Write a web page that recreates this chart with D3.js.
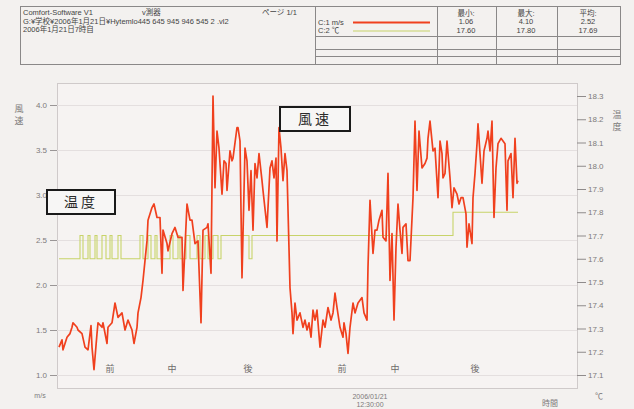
<!DOCTYPE html>
<html>
<head>
<meta charset="utf-8">
<script src="https://cdn.jsdelivr.net/npm/d3@7"></script>
<style>
  html, body { margin: 0; padding: 0; background: #f3f1ef; }
  svg { display: block; }
  text { font-family: "Liberation Sans Narrow", "Liberation Sans", "Noto Sans CJK JP", sans-serif; }
  .jp { font-family: "Noto Sans CJK JP", sans-serif; }
</style>
</head>
<body>
<svg id="chart" width="634" height="409"></svg>
<script>
// Logger record: wind speed (m/s) and temperature (°C), seconds from start of record
const windSec = [
  20,50,60,100,130,150,160,200,210,250,
  280,310,340,350,370,400,410,450,460,500,
  510,550,580,610,650,680,710,750,770,800,
  810,840,860,880,900,910,950,970,1000,1030,
  1050,1060,1100,1110,1150,1180,1210,1250,1260,1300,
  1330,1350,1380,1410,1440,1460,1500,1510,1540,1560,
  1580,1600,1620,1650,1670,1690,1700,1730,1750,1760,
  1800,1810,1830,1850,1880,1900,1920,1940,1960,1980,
  2000,2020,2050,2060,2100,2130,2150,2170,2190,2200,
  2220,2240,2260,2280,2300,2330,2350,2360,2380,2400,
  2430,2460,2480,2500,2520,2540,2560,2580,2600,2630,
  2660,2680,2710,2740,2760,2780,2800,2830,2860,2870,
  2890,2910,2930,2960,2980,3010,3050,3070,3100,3110,
  3130,3160,3180,3200,3220,3250,3260,3290,3310,3330,
  3350,3370,3390,3410,3430,3450,3460,3490,3510,3530,
  3560,3580,3600,3620,3650,3680,3700,3710,3730,3760,
  3780,3810,3830,3850,3860,3880,3900,3930,3950,3970,
  4000,4020,4040,4060,4090,4100,4120,4150,4160,4180,
  4200,4210,4230,4250,4270,4300,4310,4330,4350,4370,
  4390,4410,4440,4460,4480,4500,4510,4540,4560,4580,
  4600,4610
];
const windMs = [
  1.31,1.39,1.28,1.42,1.46,1.53,1.58,1.53,1.50,1.46,
  1.31,1.28,1.55,1.31,1.06,1.46,1.58,1.53,1.58,1.35,
  1.53,1.58,1.80,1.64,1.69,1.50,1.61,1.50,1.35,1.53,
  1.69,1.86,2.05,2.27,2.49,2.72,2.86,2.90,2.75,2.75,
  2.13,2.61,2.46,2.38,2.57,2.64,2.53,2.53,1.94,2.90,
  2.72,2.72,2.46,2.49,1.58,2.61,2.64,2.68,2.13,4.10,
  3.08,3.71,3.52,3.01,3.38,3.35,3.05,3.49,3.38,3.41,
  3.75,3.75,3.60,2.08,3.52,3.38,2.83,3.27,2.61,3.35,
  3.19,3.46,3.16,3.05,2.64,3.30,3.38,3.19,3.41,2.49,
  3.75,3.52,3.16,3.46,3.27,1.97,1.69,1.46,1.80,1.61,
  1.69,1.53,1.61,1.50,1.58,1.42,1.72,1.61,1.72,1.31,
  1.61,1.53,1.75,1.61,1.69,1.91,1.75,1.53,1.42,1.58,
  1.46,1.24,1.53,1.80,1.69,1.80,1.86,1.69,1.61,2.20,
  2.94,2.35,2.61,2.61,2.72,2.83,2.53,2.49,3.24,2.05,
  2.57,1.61,2.42,2.90,2.61,2.35,2.64,2.68,2.27,2.27,
  2.97,3.82,3.05,3.71,3.30,3.35,3.41,3.63,3.82,3.49,
  3.52,2.97,3.60,3.46,3.19,3.24,3.60,3.19,2.86,3.08,
  3.01,2.90,2.97,2.97,2.79,2.42,2.68,2.46,2.97,3.24,
  3.57,3.79,3.46,3.13,3.49,3.63,3.71,3.49,3.82,2.75,
  3.30,3.57,3.63,3.60,3.57,2.83,3.38,3.46,2.97,3.63,
  3.13,3.16
];
const tempSec = [
  20,230,260,310,330,380,400,450,490,530,550,610,640,
  830,860,910,940,980,1000,1130,1160,1210,1230,1290,1330,
  1400,1430,1480,1510,1560,1610,1640,1920,1950,3960,4610
];
const tempC = [
  17.6,17.7,17.6,17.7,17.6,17.7,17.6,17.7,17.6,17.7,17.6,17.7,17.6,
  17.7,17.6,17.7,17.6,17.7,17.6,17.7,17.6,17.7,17.6,17.7,17.6,
  17.7,17.6,17.7,17.6,17.7,17.6,17.7,17.6,17.7,17.8,17.8
];

const speedTicks = [1.0, 1.5, 2.0, 2.5, 3.0, 3.5, 4.0];
const tempTicks = [17.1, 17.2, 17.3, 17.4, 17.5, 17.6, 17.7, 17.8, 17.9, 18.0, 18.1, 18.2, 18.3];
const phaseLabels = ["前", "中", "後", "前", "中", "後"];
const phaseSec = [530, 1150, 1910, 2850, 3380, 4180];
const stampSec = 3130;
const stampLines = ["2006/01/21", "12:30:00"];

const headerLines = [
  "Comfort-Software V1",
  "G:¥学校¥2006年1月21日¥Hytemlo445 645 945 946 545 2 .vl2",
  "2006年1月21日7時自"
];
const statNames = ["最小:", "最大:", "平均:"];
const windStats = ["1.06", "4.10", "2.52"];
const tempStats = ["17.60", "17.80", "17.69"];
const channelNames = ["C:1  m/s", "C:2  ℃"];

const RED = "#f0401e";
const GREEN = "#c8d36a";
const GRAY = "#7d7a7a";

const svg = d3.select("#chart");

// ---------- header block ----------
const hdr = svg.append("g");
hdr.append("rect").attr("x", 20.5).attr("y", 6.5).attr("width", 600).attr("height", 58)
  .attr("fill", "none").attr("stroke", "#8a8888").attr("stroke-width", 1);
const colX = [315, 437, 496, 557];
colX.forEach(x => hdr.append("line").attr("x1", x + 0.5).attr("x2", x + 0.5)
  .attr("y1", 6.5).attr("y2", 64.5).attr("stroke", "#8a8888"));
[36, 49, 56].forEach(y => hdr.append("line").attr("x1", 315.5).attr("x2", 620.5)
  .attr("y1", y + 0.5).attr("y2", y + 0.5).attr("stroke", "#8a8888"));

hdr.selectAll("text.hl").data(headerLines).join("text")
  .attr("class", "hl")
  .attr("x", 23).attr("y", (d, i) => 15 + i * 8.5)
  .attr("font-size", 7.5).attr("fill", "#444").text(d => d);
hdr.append("text").attr("x", 142).attr("y", 15).attr("font-size", 7.5).attr("fill", "#444").text("v測器");
hdr.append("text").attr("x", 262).attr("y", 15).attr("font-size", 7.5).attr("fill", "#444").text("ページ  1/1");

hdr.selectAll("text.ch").data(channelNames).join("text")
  .attr("class", "ch")
  .attr("x", 318).attr("y", (d, i) => 25 + i * 8)
  .attr("font-size", 7.5).attr("fill", "#444").text(d => d);
hdr.append("line").attr("x1", 353).attr("x2", 430).attr("y1", 22.5).attr("y2", 22.5)
  .attr("stroke", RED).attr("stroke-width", 2);
hdr.append("line").attr("x1", 353).attr("x2", 430).attr("y1", 31).attr("y2", 31)
  .attr("stroke", GREEN).attr("stroke-width", 1.2);

const colCenters = [466, 526, 588];
statNames.forEach((s, i) => {
  hdr.append("text").attr("x", colCenters[i]).attr("y", 16).attr("text-anchor", "middle")
    .attr("font-size", 7.5).attr("fill", "#444").text(s);
  hdr.append("text").attr("x", colCenters[i]).attr("y", 24).attr("text-anchor", "middle")
    .attr("font-size", 7.5).attr("fill", "#444").text(windStats[i]);
  hdr.append("text").attr("x", colCenters[i]).attr("y", 33).attr("text-anchor", "middle")
    .attr("font-size", 7.5).attr("fill", "#444").text(tempStats[i]);
});

// ---------- plot frame and scales ----------
const plot = { left: 57, right: 577, top: 83, bottom: 388 };
const x = d3.scaleLinear().domain([0, 5200]).range([plot.left, plot.right]);
const ySpeed = d3.scaleLinear().domain([1.0, 4.0]).range([375, 105]);
const yTemp = d3.scaleLinear().domain([17.1, 18.3]).range([375, 96]);

svg.append("rect").attr("x", plot.left + 0.5).attr("y", plot.top + 0.5)
  .attr("width", plot.right - plot.left).attr("height", plot.bottom - plot.top)
  .attr("fill", "#f6f3f2").attr("stroke", "#cfcaca");

// faint horizontal grid
svg.append("g").selectAll("line").data(speedTicks).join("line")
  .attr("x1", plot.left).attr("x2", plot.right)
  .attr("y1", d => Math.round(ySpeed(d)) + 0.5).attr("y2", d => Math.round(ySpeed(d)) + 0.5)
  .attr("stroke", "#e4dfdf");

// left axis: wind speed
const leftAxis = svg.append("g").attr("transform", `translate(${plot.left},0)`)
  .call(d3.axisLeft(ySpeed).tickValues(speedTicks).tickFormat(d3.format(".1f")).tickSize(7).tickPadding(3));
leftAxis.select(".domain").remove();
leftAxis.selectAll("line").attr("stroke", "#9a9696");
leftAxis.selectAll("text").attr("font-size", 8).attr("fill", GRAY);

// right axis: temperature
const rightAxis = svg.append("g").attr("transform", `translate(${plot.right},0)`)
  .call(d3.axisRight(yTemp).tickValues(tempTicks).tickFormat(d3.format(".1f")).tickSize(9).tickPadding(2));
rightAxis.select(".domain").remove();
rightAxis.selectAll("line").attr("stroke", "#8f8b8b");
rightAxis.selectAll("text").attr("font-size", 8).attr("fill", GRAY);

// axis titles and units
const vtext = (xPos, yPos, chars) => chars.forEach((c, i) =>
  svg.append("text").attr("class", "jp").attr("x", xPos).attr("y", yPos + i * 12)
    .attr("text-anchor", "middle").attr("font-size", 9).attr("fill", GRAY).text(c));
vtext(19, 112, ["風", "速"]);
vtext(617, 118, ["温", "度"]);
svg.append("text").attr("x", 40).attr("y", 398).attr("text-anchor", "middle")
  .attr("font-size", 7).attr("fill", GRAY).text("m/s");
svg.append("text").attr("x", 599).attr("y", 399).attr("text-anchor", "middle")
  .attr("font-size", 8).attr("fill", GRAY).text("℃");

// phase labels along the time axis
svg.append("g").selectAll("text").data(phaseLabels).join("text")
  .attr("class", "jp")
  .attr("x", (d, i) => x(phaseSec[i])).attr("y", 372)
  .attr("text-anchor", "middle").attr("font-size", 9).attr("fill", "#6f6b6b").text(d => d);

// time stamp and axis name
svg.append("g").selectAll("text").data(stampLines).join("text")
  .attr("x", x(stampSec)).attr("y", (d, i) => 399 + i * 8)
  .attr("text-anchor", "middle").attr("font-size", 7).attr("fill", GRAY).text(d => d);
svg.append("text").attr("class", "jp").attr("x", 550).attr("y", 406)
  .attr("text-anchor", "middle").attr("font-size", 8).attr("fill", GRAY).text("時間");

// ---------- series ----------
const tempData = tempSec.map((t, i) => [t, tempC[i]]);
svg.append("path").datum(tempData)
  .attr("fill", "none").attr("stroke", GREEN).attr("stroke-width", 1.1)
  .attr("d", d3.line().x(d => x(d[0])).y(d => yTemp(d[1])).curve(d3.curveStepAfter));

const windData = windSec.map((t, i) => [t, windMs[i]]);
svg.append("path").datum(windData)
  .attr("fill", "none").attr("stroke", RED).attr("stroke-width", 1.7)
  .attr("stroke-linejoin", "round")
  .attr("d", d3.line().x(d => x(d[0])).y(d => ySpeed(d[1])));

// ---------- callout boxes ----------
const callouts = [
  { label: "温度", x: 47, y: 190, w: 68, h: 24 },
  { label: "風速", x: 280, y: 107, w: 70, h: 24 }
];
callouts.forEach(c => {
  svg.append("rect").attr("x", c.x).attr("y", c.y).attr("width", c.w).attr("height", c.h)
    .attr("fill", "#f7f6f5").attr("stroke", "#1a1a1a").attr("stroke-width", 2);
  svg.append("text").attr("class", "jp").attr("x", c.x + c.w / 2).attr("y", c.y + c.h / 2 + 5)
    .attr("text-anchor", "middle").attr("font-size", 14).attr("letter-spacing", 3)
    .attr("fill", "#2a2a2a").text(c.label);
});
</script>
</body>
</html>
